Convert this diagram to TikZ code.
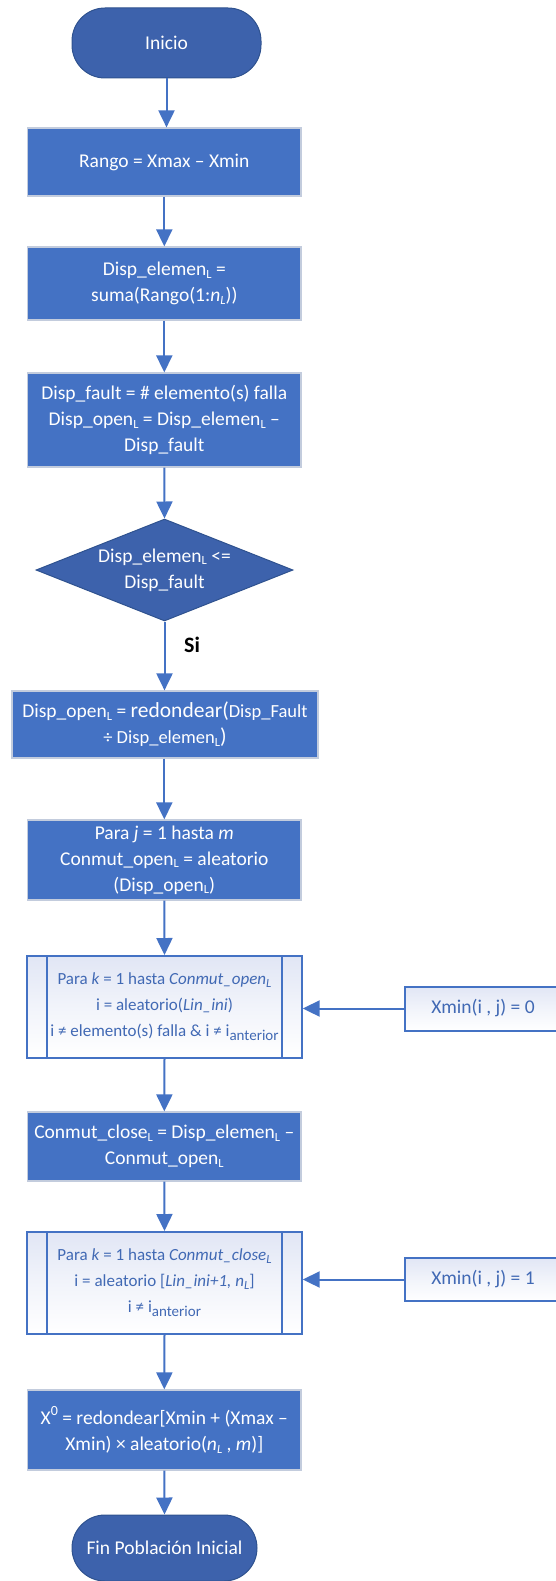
\documentclass[tikz,border=0pt]{standalone}
\usepackage{fontspec}
\setmainfont{Carlito}
\usetikzlibrary{shapes.geometric,arrows.meta,calc}

\definecolor{boxblue}{HTML}{4472C4}
\definecolor{darkblue}{HTML}{3D62AC}
\definecolor{darkedge}{HTML}{2F528F}
\definecolor{lightedge}{HTML}{C3CCDD}
\definecolor{predefbg}{HTML}{E1E6F5}
\definecolor{predeftext}{HTML}{4169B4}

% subscripts and superscripts set by hand
\newcommand\lsub[1]{\raisebox{-2.5pt}{\fontsize{12.5}{12.5}\selectfont #1}}
\newcommand\asub[1]{\raisebox{-4pt}{\fontsize{15}{15}\selectfont #1}}
\newcommand\supz[1]{\raisebox{9pt}{\fontsize{14}{14}\selectfont #1}}
\newcommand\largetxt{\fontsize{21.5}{26}\selectfont}
\newcommand\smalltxt{\fontsize{18.5}{26}\selectfont}

\tikzset{
  base/.style={inner sep=0pt, align=center, text=white,
    font=\fontsize{19.5}{26}\selectfont},
  process/.style={base, rectangle, fill=boxblue, draw=lightedge, line width=1.2pt},
  terminal/.style={base, rectangle, rounded corners=33pt, fill=darkblue,
    draw=darkedge, line width=1pt},
  decision/.style={base, diamond, aspect=2.52, fill=darkblue, draw=darkedge,
    line width=1pt},
  softfill/.style={shading=axis, shading angle=-45, top color=predefbg,
    bottom color=white, middle color=white!55!predefbg},
  predef/.style={base, rectangle, softfill,
    draw=boxblue, line width=2pt, text=predeftext,
    font=\fontsize{17}{26}\selectfont},
  predefline/.style={draw=boxblue, line width=2pt},
  given/.style={base, rectangle, softfill,
    draw=boxblue, line width=2pt, text=predeftext},
  arr/.style={draw=boxblue, line width=2pt, -{Triangle[width=16pt,length=17pt]}},
  lbl/.style={inner sep=0pt, font=\fontsize{22}{26}\selectfont\bfseries, text=black}
}

\begin{document}
\begin{tikzpicture}[x=1pt,y=1pt]
\useasboundingbox (0,0) rectangle (555,-1581);

\node[terminal, minimum width=189, minimum height=70] (inicio) at (166.5,-43) {Inicio};
\node[process, minimum width=273.5, minimum height=68] (rango) at (164.3,-162)
  {Rango = Xmax – Xmin};
\node[process, minimum width=273.5, minimum height=73] (dispelem) at (164.3,-283.5)
  {Disp\_elemen\lsub{L} =\\ suma(Rango(1:\textit{n}\lsub{\textit{L}}))};
\node[process, minimum width=273.5, minimum height=94] (dispfault) at (164.3,-420)
  {Disp\_fault = \# elemento(s) falla\\ Disp\_open\lsub{L} = Disp\_elemen\lsub{L} –\\ Disp\_fault};
\node[decision, minimum width=257, minimum height=102] (dec) at (164.5,-570)
  {Disp\_elemen\lsub{L} <=\\ Disp\_fault};
\node[lbl] (si) at (192,-645) {Si};
\node[process, minimum width=306, minimum height=67] (dispopen) at (165,-724.5)
  {Disp\_open\lsub{L} = {\largetxt redondear(}{\smalltxt Disp\_Fault}\\
   {\smalltxt ÷ Disp\_elemen\lsub{L}}{\largetxt )}};
\node[process, minimum width=273.5, minimum height=80] (paraj) at (164.3,-860)
  {Para \textit{j} = 1 hasta \textit{m}\\ Conmut\_open\lsub{L} = aleatorio\\ (Disp\_open\lsub{L})};
\node[predef, minimum width=274.4, minimum height=102] (p1) at (164.5,-1007)
  {Para \textit{k} = 1 hasta \textit{Conmut\_open\lsub{L}}\\
   i = aleatorio(\textit{Lin\_ini})\\
   i ≠ elemento(s) falla \& i ≠ i\asub{anterior}};
\node[given, minimum width=156, minimum height=44] (xmin0) at (483,-1008.5)
  {Xmin(i , j) = 0};
\node[process, minimum width=273.5, minimum height=69] (close) at (164.3,-1146.5)
  {Conmut\_close\lsub{L} = Disp\_elemen\lsub{L} –\\ Conmut\_open\lsub{L}};
\node[predef, minimum width=274.4, minimum height=102] (p2) at (164.5,-1283)
  {Para \textit{k} = 1 hasta \textit{Conmut\_close\lsub{L}}\\
   i = aleatorio [\textit{Lin\_ini+1, n\lsub{L}}]\\
   i ≠ i\asub{anterior}};
\node[given, minimum width=156, minimum height=43] (xmin1) at (483,-1279.5)
  {Xmin(i , j) = 1};
\node[process, minimum width=273.5, minimum height=80] (x0) at (164.3,-1430)
  {X\supz{0} = redondear[Xmin + (Xmax –\\ Xmin) × aleatorio(\textit{n\lsub{L}} , \textit{m})]};
\node[terminal, minimum width=185, minimum height=66] (fin) at (164.5,-1548)
  {Fin Población Inicial};

% side bars of the predefined-process boxes
\foreach \p in {p1,p2}{
  \draw[predefline] ([xshift=20.4pt]\p.north west) -- ([xshift=20.4pt]\p.south west);
  \draw[predefline] ([xshift=-20.7pt]\p.north east) -- ([xshift=-20.7pt]\p.south east);
}

% main flow
\draw[arr] (inicio.south) -- (inicio.south |- rango.north);
\draw[arr] (rango.south) -- (dispelem.north);
\draw[arr] (dispelem.south) -- (dispfault.north);
\draw[arr] (dispfault.south) -- (dec.north);
\draw[arr] (dec.south) -- (dec.south |- dispopen.north);
\draw[arr] (dispopen.south -| paraj.north) -- (paraj.north);
\draw[arr] (paraj.south) -- (p1.north);
\draw[arr] (p1.south) -- (close.north);
\draw[arr] (close.south) -- (p2.north);
\draw[arr] (p2.south) -- (x0.north);
\draw[arr] (x0.south) -- (fin.north);

% inputs from the side
\draw[arr] (xmin0.west) -- (xmin0.west -| p1.east);
\draw[arr] (xmin1.west) -- (xmin1.west -| p2.east);
\end{tikzpicture}
\end{document}
